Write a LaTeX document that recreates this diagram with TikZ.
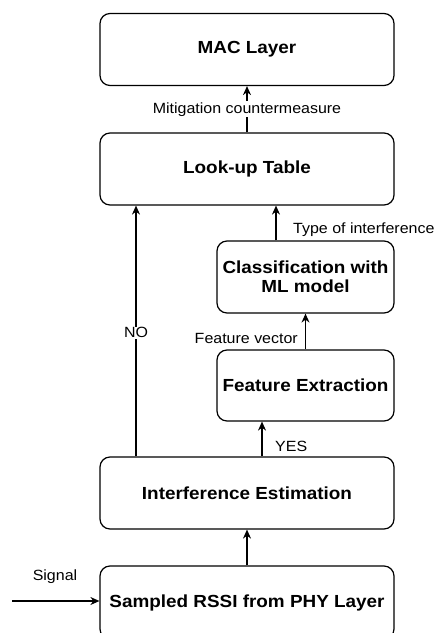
\documentclass[tikz,border=0pt]{standalone}
\usepackage{fontspec}
\setmainfont{Liberation Sans}[FakeStretch=1.08]
\usetikzlibrary{arrows.meta,calc}
\begin{document}
\begin{tikzpicture}[x=1pt,y=-1pt,
  box/.style={draw, line width=1.2pt, rounded corners=10pt, align=center,
    font=\fontsize{17.5}{19}\selectfont\bfseries, inner sep=0pt},
  wide/.style={box, minimum width=294pt, minimum height=72pt},
  narrow/.style={box, minimum width=177pt, minimum height=72pt},
  arr/.style={draw, line width=1.3pt, -{Stealth[length=9pt,width=8pt]}},
  lbl/.style={font=\fontsize{14.8}{16}\selectfont, inner sep=1pt}]
\useasboundingbox (0,0) rectangle (434,633);
\begin{scope}
\clip (0,0) rectangle (434,633);
\node[wide] (mac) at (247,49.5) {MAC Layer};
\node[wide] (lut) at (247,169) {Look-up Table};
\node[narrow] (cls) at (305.5,277) {Classification with\\ML model};
\node[narrow, minimum height=71pt] (fe) at (305.5,385.5) {Feature Extraction};
\node[wide] (ie) at (247,493) {Interference Estimation};
\node[wide, minimum height=73pt] (rssi) at (247,602.5) {Sampled RSSI from PHY Layer};
\coordinate (sig) at (12,601);

\draw[arr] (lut.north) -- node[lbl, fill=white, pos=0.5] (mitl) {Mitigation countermeasure} (mac.south);
\draw[arr] ([xshift=-29.5pt]cls.north) -- ([xshift=29pt]lut.south);
\node[lbl, anchor=west] (typel) at (292,230) {Type of interference};
\draw[arr] (fe.north) -- (cls.south);
\node[lbl, anchor=east] (fvl) at (299,338) {Feature vector};
\draw[arr] ([xshift=15pt]ie.north) -- ([xshift=-43.5pt]fe.south);
\node[lbl, anchor=west] (yesl) at (274,446) {YES};
\draw[arr] ([xshift=-111pt]ie.north) -- node[lbl, fill=white, pos=0.493] (nol) {NO} ([xshift=-111pt]lut.south);
\draw[arr] (rssi.north) -- (ie.south);
\draw[arr] (sig) -- (sig -| rssi.west);
\node[lbl] (sigl) at (55,577) {Signal};
\end{scope}
\end{tikzpicture}
\end{document}
